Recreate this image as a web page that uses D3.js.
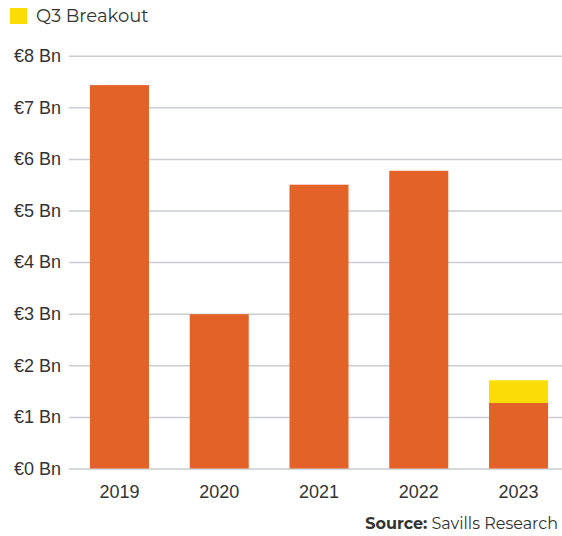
<!DOCTYPE html>
<html>
<head>
<meta charset="utf-8">
<script src="https://cdnjs.cloudflare.com/ajax/libs/d3/7.8.5/d3.min.js"></script>
<style>
  body { margin: 0; background: #fff; }
  svg { display: block; font-family: "Montserrat", "Lato", "Open Sans", sans-serif; }
</style>
</head>
<body>
<div id="chart"></div>
<script>
// data (€ Bn)
var years = ["2019", "2020", "2021", "2022", "2023"];
var baseValues = [7.43, 2.99, 5.50, 5.77, 1.27];
var q3Values = [0, 0, 0, 0, 0.44];
var yTicks = [0, 1, 2, 3, 4, 5, 6, 7, 8];
var legendLabel = "Q3 Breakout";

var W = 562, H = 536;
var y0 = 468.5;

var svg = d3.select("#chart").append("svg")
    .attr("width", W)
    .attr("height", H);

var x = d3.scaleBand()
    .domain(years)
    .range([70, 568])
    .paddingInner(0.4085)
    .paddingOuter(0.2);

var y = d3.scaleLinear()
    .domain([0, 8])
    .range([y0, 55.7]);

// gridlines + y labels
var yAxis = svg.append("g")
    .attr("transform", "translate(69,0)")
    .call(d3.axisLeft(y).tickValues(yTicks).tickSize(-(W - 69)).tickPadding(8)
      .tickFormat(function(d) { return "€" + d + " Bn"; }));
yAxis.select(".domain").remove();
yAxis.selectAll(".tick line")
    .attr("stroke", "#c9cdd1")
    .attr("stroke-width", 1.5);
yAxis.selectAll(".tick text")
    .attr("fill", "#333")
    .style("font-size", "18px");

// bars
var rows = years.map(function(d, i) { return {year: d, base: baseValues[i], q3: q3Values[i]}; });

svg.selectAll(".bar")
  .data(rows)
  .enter().append("rect")
    .attr("class", "bar")
    .attr("x", function(d) { return x(d.year); })
    .attr("y", function(d) { return y(d.base); })
    .attr("width", x.bandwidth())
    .attr("height", function(d) { return y0 - y(d.base); })
    .attr("fill", "#e26227");

svg.selectAll(".q3")
  .data(rows.filter(function(d) { return d.q3 > 0; }))
  .enter().append("rect")
    .attr("class", "q3")
    .attr("x", function(d) { return x(d.year); })
    .attr("y", function(d) { return y(d.base + d.q3); })
    .attr("width", x.bandwidth())
    .attr("height", function(d) { return y(d.base) - y(d.base + d.q3); })
    .attr("fill", "#fadd05");

// x labels
var xAxis = svg.append("g")
    .attr("transform", "translate(0," + y0 + ")")
    .call(d3.axisBottom(x).tickSize(0).tickPadding(17));
xAxis.select(".domain").remove();
xAxis.selectAll(".tick text")
    .attr("fill", "#333")
    .style("font-size", "18px");

// legend
svg.append("rect")
    .attr("x", 10).attr("y", 8)
    .attr("width", 17).attr("height", 16)
    .attr("fill", "#fadd05");
svg.append("text")
    .attr("x", 36).attr("y", 22)
    .attr("fill", "#333")
    .style("font-size", "18px")
    .text(legendLabel);

// source
var src = svg.append("text")
    .attr("x", 558).attr("y", 529)
    .attr("text-anchor", "end")
    .attr("fill", "#333")
    .style("font-size", "16px");
src.append("tspan").attr("font-weight", "bold").text("Source:");
src.append("tspan").text(" Savills Research");
</script>
</body>
</html>
